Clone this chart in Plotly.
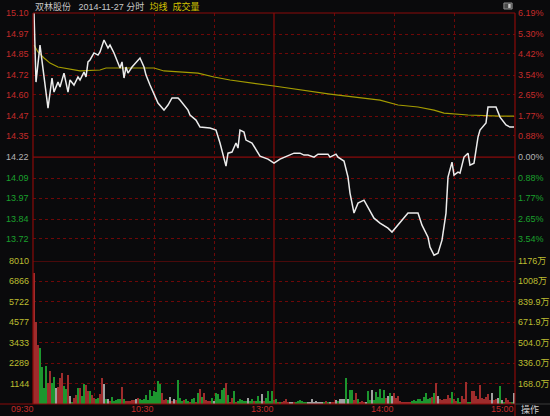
import plotly.graph_objects as go

prev_close = 14.22

# Price line key points (minute index from 09:30, 0..240 with lunch removed)
price_minutes = [0, 1, 3, 7, 9, 10, 12, 13, 15, 17, 18, 20, 22, 23, 25, 26, 27, 28, 30, 32,
                 33, 35, 37, 38, 40, 42, 43, 44, 45, 46, 47, 49, 51, 53, 55, 56, 58, 62, 65, 67,
                 69, 72, 73, 77, 78, 81, 83, 86, 88, 91, 93, 96, 97, 99, 101, 102, 103, 105, 106, 109,
                 111, 113, 117, 120, 123, 127, 130, 133, 135, 137, 140, 142, 147, 148, 151, 152, 155, 157, 158, 160,
                 162, 165, 167, 170, 173, 177, 179, 182, 184, 187, 192, 194, 197, 198, 200, 202, 204, 206, 207, 209,
                 210, 212, 213, 215, 217, 218, 220, 222, 223, 226, 227, 231, 233, 236, 238, 240]
price_values = [15.10, 14.678, 14.904, 14.519, 14.703, 14.617, 14.678, 14.648, 14.733, 14.617, 14.691, 14.660, 14.709, 14.691, 14.739, 14.709, 14.801, 14.813, 14.856, 14.843,
                14.862, 14.935, 14.886, 14.904, 14.856, 14.794, 14.764, 14.801, 14.703, 14.770, 14.733, 14.770, 14.801, 14.825, 14.770, 14.721, 14.660, 14.550, 14.507, 14.538,
                14.581, 14.581, 14.568, 14.507, 14.477, 14.446, 14.403, 14.397, 14.397, 14.385, 14.306, 14.165, 14.244, 14.251, 14.306, 14.275, 14.385, 14.373, 14.324, 14.306,
                14.263, 14.226, 14.208, 14.183, 14.208, 14.226, 14.244, 14.244, 14.232, 14.232, 14.220, 14.238, 14.238, 14.220, 14.238, 14.220, 14.196, 14.098, 14.000, 13.878,
                13.939, 13.957, 13.914, 13.847, 13.817, 13.786, 13.762, 13.804, 13.835, 13.878, 13.878, 13.804, 13.731, 13.670, 13.621, 13.633, 13.713, 13.878, 14.098, 14.189,
                14.110, 14.128, 14.122, 14.220, 14.244, 14.171, 14.183, 14.342, 14.385, 14.428, 14.526, 14.526, 14.464, 14.416, 14.403, 14.403]

# Average price line key points
avg_minutes = [0, 2, 5, 8, 12, 17, 23, 33, 36, 48, 60, 65, 73, 82, 90, 98, 120, 148, 173, 182, 192, 200, 205, 217, 233, 240]
avg_values = [14.904, 14.862, 14.825, 14.794, 14.770, 14.758, 14.746, 14.752, 14.764, 14.764, 14.764, 14.746, 14.739, 14.733, 14.709, 14.691,
              14.654, 14.605, 14.568, 14.538, 14.526, 14.507, 14.489, 14.477, 14.470, 14.470]

# Per-minute volume (手) and tick direction (r=up, g=down, w=flat)
volumes = [7356, 4611, 3305, 3118, 2054, 877, 2147, 1157, 1848, 1157,
           1531, 915, 933, 1475, 1755, 1027, 821, 1624, 467, 131,
           355, 504, 877, 877, 467, 1120, 1064, 747, 747, 504,
           317, 261, 317, 560, 1438, 1102, 280, 261, 187, 411,
           150,
           224, 280, 280, 971, 261, 187, 187, 187, 224, 224,
           261, 355, 261, 224, 280, 504, 224, 784, 467, 747,
           653, 1307, 1102, 635, 224, 280, 224, 411, 187, 261,
           224, 1344, 355, 187, 224, 280, 187, 131, 280, 355,
           130,
           597, 840, 411, 635, 224, 187, 187, 317, 187, 635,
           560, 280, 784, 877, 1157, 504, 131, 355, 747, 131,
           187, 280, 224, 187,
           150,
           317, 187, 261, 187, 187, 467,
           187, 560, 187, 317, 747, 187,
           747, 224, 261, 131, 131, 131, 187, 280, 131, 93,
           131, 131, 131, 187, 224, 187, 131, 131, 131, 131,
           261, 131, 187, 93, 93, 131, 93, 187, 131, 93,
           131, 131, 224, 187, 261, 261, 261, 1438, 280, 784,
           784, 224, 635, 261, 93, 187, 93, 131, 747, 224,
           784, 224, 653, 411, 821, 317, 784, 317, 448, 597,
           467, 597, 317, 467, 187, 131, 93, 131, 93, 131,
           187, 224, 187, 261, 261, 187, 411, 597, 280, 317,
           411, 597, 1195, 448, 261, 224, 261, 261, 504, 317,
           691, 261, 187, 355, 131, 467, 280, 1213, 131, 131,
           728, 728, 467, 280, 1064, 317, 261, 411, 541, 224,
           597, 224, 280, 317, 1008, 224, 131, 355, 224, 131,
           131, 635]
vol_dirs = list(
    "rrrggggrrg" "gwrrrggrwg" "rrgrggrrgr" "rggrrwgwrg"
    "g"
    "gggrgrrrrr" "wrgggggggg" "gggrrrgwrw" "rgggrggrgg"
    "r"
    "grgrrrrgwg" "ggggrgrrgr" "gggg"
    "g"
    "wggrgg" "gwrggg"
    "grgrgrrrrw" "wrggggggww" "wwwwwwgrgw" "rrwgwwwgwg"
    "grrgrrrwgg" "wggggggrwg" "wrrrrrrrrr" "gggggggggg"
    "rgrwrrrrrr" "grrggrrrgg" "rrrrrrrrrr" "wrrwgwgrrr" "gw"
)

price_ticks = ["15.10", "14.97", "14.85", "14.72", "14.60", "14.47", "14.35",
               "14.22", "14.09", "13.97", "13.84", "13.72"]
pct_ticks = ["6.19%", "5.30%", "4.42%", "3.54%", "2.65%", "1.77%", "0.88%",
             "0.00%", "0.88%", "1.77%", "2.65%", "3.54%"]
vol_ticks = [8010, 6866, 5722, 4577, 3433, 2289, 1144]
amount_ticks = ["1176万", "1008万", "839.9万", "671.9万", "504.0万", "336.0万", "168.0万"]
time_labels = ["09:30", "10:30", "13:00", "14:00", "15:00"]
time_minutes = [0, 60, 120, 180, 240]
grid_minutes = [30, 60, 90, 150, 180, 210]

FONT = "Liberation Sans, Arial, Noto Sans CJK SC, sans-serif"
BG = "#0a0a0c"
RED_SOLID = "#8a0a0a"
RED_DOT = "#6e0808"
UP = "#c42a2a"
DOWN = "#1aa02c"
FLAT = "#b4b4b4"
YEL = "#bdbd30"

bar_colors = {"r": "#9e2c2c", "g": "#1c962e", "w": "#a0a0a0"}

n = len(volumes)
fig = go.Figure()
fig.add_trace(go.Bar(x=list(range(n)), y=volumes, xaxis="x2", yaxis="y2",
                     marker=dict(color=[bar_colors[d] for d in vol_dirs[:n]], line=dict(width=0)),
                     width=0.75, hoverinfo="skip"))
fig.add_trace(go.Scatter(x=avg_minutes, y=avg_values, mode="lines",
                         line=dict(color="#a49c00", width=1.2), hoverinfo="skip"))
fig.add_trace(go.Scatter(x=price_minutes, y=price_values, mode="lines",
                         line=dict(color="#ececec", width=1.5), hoverinfo="skip"))

price_levels = [float(t) for t in price_ticks]
xr = [-0.5, 240.5]
common_x = dict(range=xr, showticklabels=False, ticks="", showgrid=True, gridcolor=RED_DOT,
                griddash="dot", gridwidth=1, zeroline=False, showline=False, tickvals=grid_minutes)
fig.update_layout(
    width=550, height=416,
    margin=dict(l=33, r=35, t=13, b=12),
    paper_bgcolor=BG, plot_bgcolor=BG,
    showlegend=False, bargap=0,
    font=dict(family=FONT, size=9),
    xaxis=dict(domain=[0, 1], anchor="y", **common_x),
    xaxis2=dict(domain=[0, 1], anchor="y2", matches="x", **common_x),
    yaxis=dict(domain=[0.3683, 1], range=[13.5915, 15.10], tickvals=price_levels[1:7] + price_levels[8:],
               showticklabels=False, ticks="", showgrid=True, gridcolor=RED_DOT, griddash="dot",
               zeroline=False, showline=False),
    yaxis2=dict(domain=[0, 0.3657], range=[0, 8010], tickvals=vol_ticks[1:],
                showticklabels=False, ticks="", showgrid=True, gridcolor=RED_DOT, griddash="dot",
                zeroline=False, showline=False),
)

shapes = []
def line(**kw):
    d = dict(type="line", line=dict(color=RED_SOLID, width=1.2), layer="above")
    d.update(kw)
    shapes.append(d)

line(xref="paper", yref="paper", x0=0, x1=1, y0=1, y1=1)
line(xref="paper", yref="paper", x0=0, x1=0, y0=0, y1=1)
line(xref="paper", yref="paper", x0=1, x1=1, y0=-0.031, y1=1)
line(xref="paper", yref="paper", x0=-0.07, x1=1, y0=0, y1=0)
line(xref="paper", yref="paper", x0=1, x1=1.08, y0=0, y1=0, line=dict(color="#3a3a3a", width=1))
line(xref="paper", yref="y", x0=0, x1=1, y0=prev_close, y1=prev_close, layer="below")
line(xref="paper", yref="y2", x0=0, x1=1, y0=vol_ticks[0], y1=vol_ticks[0])
line(xref="x", yref="paper", x0=120, x1=120, y0=0, y1=1, layer="below")
shapes.append(dict(type="rect", xref="paper", yref="paper", x0=0.977, x1=0.994, y0=1.0102, y1=1.0256,
                   fillcolor="#4a4a4a", line=dict(color="#8a8a8a", width=1)))
shapes.append(dict(type="rect", xref="paper", yref="paper", x0=0.986, x1=0.991, y0=1.013, y1=1.023,
                   fillcolor="#c8c8c8", line=dict(width=0)))
fig.update_layout(shapes=shapes)

ann = []
for i, t in enumerate(price_ticks):
    v = float(t)
    col = UP if v > prev_close + 1e-6 else (FLAT if abs(v - prev_close) < 1e-6 else DOWN)
    ann.append(dict(xref="paper", yref="y", x=0, y=v, text=t, xanchor="right", yanchor="middle",
                    xshift=-2, showarrow=False, font=dict(color=col, size=9)))
    ann.append(dict(xref="paper", yref="y", x=1, y=v, text=pct_ticks[i], xanchor="left", yanchor="middle",
                    xshift=1, showarrow=False, font=dict(color=col, size=9)))
for v, a in zip(vol_ticks, amount_ticks):
    ann.append(dict(xref="paper", yref="y2", x=0, y=v, text=str(v), xanchor="right", yanchor="middle",
                    xshift=-2, showarrow=False, font=dict(color=YEL, size=9)))
    ann.append(dict(xref="paper", yref="y2", x=1, y=v, text=a, xanchor="left", yanchor="middle",
                    xshift=1, showarrow=False, font=dict(color=YEL, size=9)))
for m, t in zip(time_minutes, time_labels):
    ann.append(dict(xref="x2", yref="paper", x=m, y=-0.0135, text=t, xanchor="right", yanchor="middle",
                    xshift=2, showarrow=False, font=dict(color=UP, size=9)))
ann.append(dict(xref="paper", yref="paper", x=1.032, y=-0.0135, text="操作", xanchor="center",
                yanchor="middle", showarrow=False, font=dict(color="#d0d0d0", size=9)))
ann.append(dict(xref="paper", yref="paper", x=0, y=1.0175, xanchor="left", yanchor="middle", showarrow=False,
                text="双林股份&nbsp;&nbsp;&nbsp;2014-11-27 分时&nbsp;&nbsp;<span style='color:#d2c200'>均线&nbsp;&nbsp;成交量</span>",
                font=dict(color="#c8c8c8", size=9)))
fig.update_layout(annotations=ann)

fig.write_html("out.html", config={"displayModeBar": False},
               post_script="document.body.style.margin='0';document.body.style.overflow='hidden';document.body.style.background='#0a0a0c';")
